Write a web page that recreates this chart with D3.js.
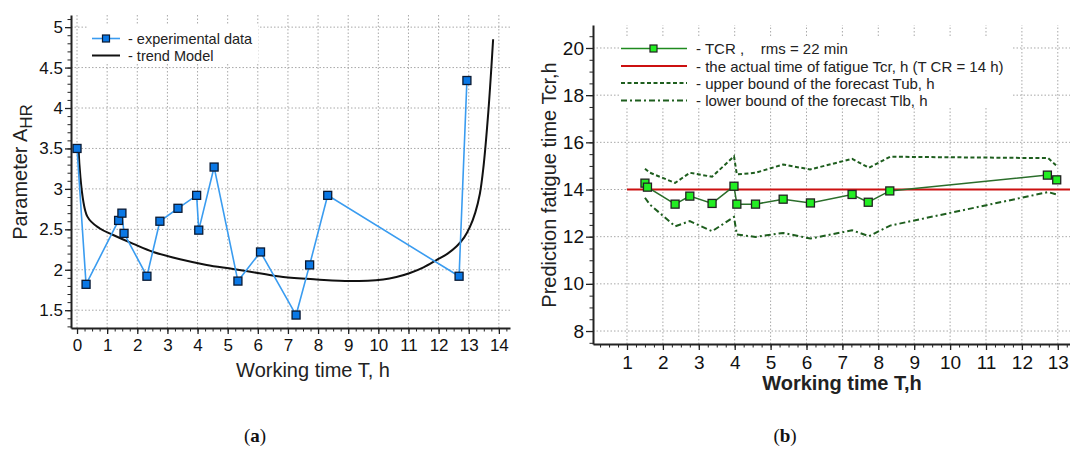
<!DOCTYPE html>
<html>
<head>
<meta charset="utf-8">
<script src="https://cdn.jsdelivr.net/npm/d3@7"></script>
<style>
  body { margin: 0; background: #fff; }
  svg { font-family: "Liberation Sans", Arial, sans-serif; }
  .grid line { stroke: #a8a8a8; stroke-width: 1; stroke-dasharray: 1.5,2; }
  .axis path, .axis line { stroke: #222; }
  .axis path { stroke-width: 2; }
</style>
</head>
<body>
<div id="chart"></div>
<script>
// ---- panel (a) data ----
var expT = [0, 0.3, 1.38, 1.49, 1.56, 2.32, 2.75, 3.35, 3.97, 4.04, 4.55, 5.34, 6.09, 7.27, 7.72, 8.32, 12.68, 12.94];
var expA = [3.5, 1.82, 2.61, 2.70, 2.45, 1.92, 2.60, 2.76, 2.92, 2.49, 3.27, 1.86, 2.22, 1.44, 2.06, 2.92, 1.92, 4.34];
var trendT = [0.05, 0.34, 0.76, 1.2, 1.87, 2.53, 3.42, 4.3, 5.18, 6.0, 6.84, 7.95, 9.06, 10.16, 10.6, 11.05, 11.5, 11.93, 12.3, 12.6, 12.85, 13.04, 13.22, 13.37, 13.48, 13.65, 13.81];
var trendA = [3.5, 2.66, 2.51, 2.43, 2.32, 2.22, 2.13, 2.06, 2.01, 1.96, 1.91, 1.88, 1.86, 1.88, 1.91, 1.96, 2.03, 2.12, 2.2, 2.29, 2.40, 2.53, 2.71, 2.94, 3.24, 3.95, 4.85];
var xTicksA = d3.range(0, 15, 1);
var yTicksA = [1.5, 2, 2.5, 3, 3.5, 4, 4.5, 5];

// ---- panel (b) data ----
var tcrT = [1.50, 1.57, 2.34, 2.75, 3.37, 3.98, 4.06, 4.58, 5.35, 6.11, 7.27, 7.72, 8.32, 12.71, 12.97];
var tcrV = [14.27, 14.10, 13.38, 13.72, 13.41, 14.14, 13.38, 13.38, 13.59, 13.43, 13.79, 13.46, 13.94, 14.61, 14.41];
var ubT = [1.50, 1.64, 2.34, 2.75, 3.37, 3.98, 4.06, 4.58, 5.35, 6.10, 7.27, 7.74, 8.33, 12.73, 12.95];
var ubV = [14.88, 14.71, 14.28, 14.71, 14.54, 15.41, 14.64, 14.71, 15.06, 14.85, 15.30, 14.92, 15.39, 15.33, 15.03];
var lbT = [1.50, 1.64, 2.34, 2.75, 3.37, 3.98, 4.06, 4.58, 5.35, 6.11, 7.27, 7.74, 8.33, 12.73, 12.95];
var lbV = [13.65, 13.36, 12.44, 12.66, 12.23, 12.84, 12.09, 11.99, 12.16, 11.92, 12.27, 12.02, 12.47, 13.89, 13.80];
var actualT = [1, 13.34];
var actualV = [14, 14];
var xTicksB = d3.range(1, 14, 1);
var yTicksB = [8, 10, 12, 14, 16, 18, 20];

var svg = d3.select("#chart").append("svg")
  .attr("width", 1070)
  .attr("height", 449);

function zip(a, b) { return a.map(function (v, i) { return [v, b[i]]; }); }

function drawAxes(g, x, y, o) {
  var x0 = x.range()[0], x1 = x.range()[1];
  var y0 = y.range()[0], y1 = y.range()[1];
  var grid = g.append("g").attr("class", "grid");
  grid.selectAll(".gx").data(o.xTicks).enter().append("line")
    .attr("x1", function (d) { return x(d); }).attr("x2", function (d) { return x(d); })
    .attr("y1", y0).attr("y2", y1);
  grid.selectAll(".gy").data(o.yTicks).enter().append("line")
    .attr("y1", function (d) { return y(d); }).attr("y2", function (d) { return y(d); })
    .attr("x1", x0).attr("x2", x1);

  // white legend box hides grid
  g.append("rect")
    .attr("x", o.legendBox[0]).attr("y", o.legendBox[1])
    .attr("width", o.legendBox[2]).attr("height", o.legendBox[3])
    .attr("fill", "#fff");

  // minor ticks
  g.append("g").attr("class", "axis").attr("transform", "translate(0," + y0 + ")")
    .call(d3.axisBottom(x).tickValues(o.xMinor).tickSize(3.5).tickFormat(""))
    .select(".domain").remove();
  g.append("g").attr("class", "axis").attr("transform", "translate(" + x0 + ",0)")
    .call(d3.axisLeft(y).tickValues(o.yMinor).tickSize(3.5).tickFormat(""))
    .select(".domain").remove();

  var ax = g.append("g").attr("class", "axis").attr("transform", "translate(0," + y0 + ")")
    .call(d3.axisBottom(x).tickValues(o.xTicks).tickSize(6).tickPadding(o.xPad).tickSizeOuter(0).tickFormat(d3.format("d")));
  ax.selectAll("text").attr("fill", "#111").style("font-size", o.tickFont + "px");
  ax.selectAll(".tick line").attr("stroke-width", 1.3);

  var ay = g.append("g").attr("class", "axis").attr("transform", "translate(" + x0 + ",0)")
    .call(d3.axisLeft(y).tickValues(o.yTicks).tickSize(o.yTickSize).tickPadding(2).tickSizeOuter(0).tickFormat(o.yFmt));
  ay.selectAll("text").attr("fill", "#111").style("font-size", o.tickFont + "px");
  ay.selectAll(".tick line").attr("stroke-width", 1.3);
}

// ================= panel (a) =================
var xa = d3.scaleLinear().domain([-0.2, 14.37]).range([71, 510]);
var ya = d3.scaleLinear().domain([1.28, 5.15]).range([328, 15]);
var ga = svg.append("g");

drawAxes(ga, xa, ya, {
  xTicks: xTicksA, yTicks: yTicksA,
  xMinor: d3.range(0, 14.3, 0.25), yMinor: d3.range(1.3, 5.11, 0.1),
  legendBox: [88, 25, 170, 37],
  xPad: 5, tickFont: 17, yTickSize: 6,
  yFmt: function (d) { return String(d); }
});

ga.append("path").datum(zip(trendT, trendA))
  .attr("d", d3.line().curve(d3.curveCatmullRom.alpha(0.5))
    .x(function (d) { return xa(d[0]); }).y(function (d) { return ya(d[1]); }))
  .attr("fill", "none").attr("stroke", "#111").attr("stroke-width", 2);

ga.append("path").datum(zip(expT, expA))
  .attr("d", d3.line().x(function (d) { return xa(d[0]); }).y(function (d) { return ya(d[1]); }))
  .attr("fill", "none").attr("stroke", "#3a9cf0").attr("stroke-width", 1.6);

ga.selectAll(".ma").data(zip(expT, expA)).enter().append("rect")
  .attr("x", function (d) { return xa(d[0]) - 4; })
  .attr("y", function (d) { return ya(d[1]) - 4; })
  .attr("width", 8).attr("height", 8)
  .attr("fill", "#0a78e6").attr("stroke", "#0a1a33").attr("stroke-width", 1.3);

// legend a
ga.append("line").attr("x1", 92).attr("x2", 120).attr("y1", 38.5).attr("y2", 38.5)
  .attr("stroke", "#3a9cf0").attr("stroke-width", 1.6);
ga.append("rect").attr("x", 102.5).attr("y", 35).attr("width", 7).attr("height", 7)
  .attr("fill", "#0a78e6").attr("stroke", "#0a1a33").attr("stroke-width", 1.2);
ga.append("line").attr("x1", 92).attr("x2", 120).attr("y1", 55.5).attr("y2", 55.5)
  .attr("stroke", "#111").attr("stroke-width", 2);
ga.append("text").attr("x", 128).attr("y", 43.5).style("font-size", "14.5px").attr("fill", "#222")
  .text("- experimental data");
ga.append("text").attr("x", 128).attr("y", 60.5).style("font-size", "14.5px").attr("fill", "#222")
  .text("- trend Model");

// axis titles a
ga.append("text").attr("x", 313).attr("y", 377).attr("text-anchor", "middle")
  .style("font-size", "20px").attr("fill", "#222").text("Working time T, h");
var ta = ga.append("text").attr("transform", "translate(27,172) rotate(-90)")
  .attr("text-anchor", "middle").style("font-size", "20px").attr("fill", "#222");
ta.append("tspan").text("Parameter A");
ta.append("tspan").attr("dy", 5).style("font-size", "17px").text("HR");

// ================= panel (b) =================
var xb = d3.scaleLinear().domain([0.053, 13.34]).range([593, 1070]);
var yb = d3.scaleLinear().domain([7.45, 20.975]).range([344, 25]);
var gb = svg.append("g");

drawAxes(gb, xb, yb, {
  xTicks: xTicksB, yTicks: yTicksB,
  xMinor: d3.range(0.25, 13.3, 0.25), yMinor: d3.range(7.5, 20.9, 0.5),
  legendBox: [620, 38, 393, 69],
  xPad: 6, tickFont: 19, yTickSize: 7,
  yFmt: d3.format("d")
});

var lineB = d3.line().x(function (d) { return xb(d[0]); }).y(function (d) { return yb(d[1]); });

gb.append("path").datum(zip(ubT, ubV)).attr("d", lineB)
  .attr("fill", "none").attr("stroke", "#1e5e1e").attr("stroke-width", 2).attr("stroke-dasharray", "4,2.5");
gb.append("path").datum(zip(lbT, lbV)).attr("d", lineB)
  .attr("fill", "none").attr("stroke", "#1e5e1e").attr("stroke-width", 2).attr("stroke-dasharray", "6,3,2,3");
gb.append("path").datum(zip(actualT, actualV)).attr("d", lineB)
  .attr("fill", "none").attr("stroke", "#cc1010").attr("stroke-width", 2);
gb.append("path").datum(zip(tcrT, tcrV)).attr("d", lineB)
  .attr("fill", "none").attr("stroke", "#2b6e2b").attr("stroke-width", 1.5);

gb.selectAll(".mb").data(zip(tcrT, tcrV)).enter().append("rect")
  .attr("x", function (d) { return xb(d[0]) - 4; })
  .attr("y", function (d) { return yb(d[1]) - 4; })
  .attr("width", 8).attr("height", 8)
  .attr("fill", "#22ee22").attr("stroke", "#222").attr("stroke-width", 1.3);

// legend b
var legB = [
  { y: 48.5, label: "- TCR ,    rms = 22 min", color: "#1f8a1f", dash: null, w: 1.5 },
  { y: 66, label: "- the actual time of fatigue Tcr, h (T CR = 14 h)", color: "#cc1010", dash: null, w: 2 },
  { y: 83, label: "- upper bound of the forecast Tub, h", color: "#1e5e1e", dash: "4,2.5", w: 2 },
  { y: 100.5, label: "- lower bound of the forecast Tlb, h", color: "#1e5e1e", dash: "6,3,2,3", w: 2 }
];
legB.forEach(function (l) {
  gb.append("line").attr("x1", 621).attr("x2", 687).attr("y1", l.y).attr("y2", l.y)
    .attr("stroke", l.color).attr("stroke-width", l.w).attr("stroke-dasharray", l.dash);
  gb.append("text").attr("x", 696).attr("y", l.y + 5.5).style("font-size", "15px").attr("fill", "#222")
    .attr("xml:space", "preserve").style("white-space", "pre").text(l.label);
});
gb.append("rect").attr("x", 650).attr("y", 45).attr("width", 7).attr("height", 7)
  .attr("fill", "#22ee22").attr("stroke", "#222").attr("stroke-width", 1.2);

// axis titles b
gb.append("text").attr("x", 842).attr("y", 390).attr("text-anchor", "middle")
  .style("font-size", "20px").style("font-weight", "bold").attr("fill", "#222").text("Working time T,h");
gb.append("text").attr("transform", "translate(556,185) rotate(-90)")
  .attr("text-anchor", "middle").style("font-size", "20px").attr("fill", "#222")
  .text("Prediction fatigue time Tcr,h");

// captions
[["a", 255], ["b", 785]].forEach(function (c) {
  var t = svg.append("text").attr("x", c[1]).attr("y", 442).attr("text-anchor", "middle")
    .style("font-family", "'Liberation Serif', 'DejaVu Serif', serif").style("font-size", "19px").attr("fill", "#111");
  t.append("tspan").text("(");
  t.append("tspan").style("font-weight", "bold").text(c[0]);
  t.append("tspan").text(")");
});
</script>
</body>
</html>
